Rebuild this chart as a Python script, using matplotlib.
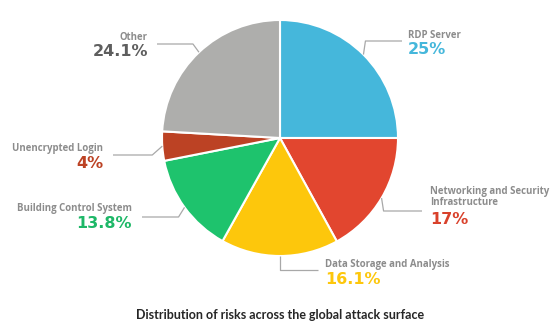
import numpy as np
import matplotlib.pyplot as plt

labels = ["RDP Server", "Networking and Security\nInfrastructure",
          "Data Storage and Analysis", "Building Control System",
          "Unencrypted Login", "Other"]
shares = [25, 17, 16.1, 13.8, 4, 24.1]
share_text = ["25%", "17%", "16.1%", "13.8%", "4%", "24.1%"]
colors = ["#45B7DB", "#E2462F", "#FDC70C", "#1EC36D", "#BC4224", "#AEAEAC"]
pct_colors = ["#45B7DB", "#D9412B", "#FDC70C", "#1EB868", "#BC4224", "#5E5E5E"]

W, H = 560, 329
cx, cy, radius = 280, H - 138, 118

fig = plt.figure(figsize=(W / 100, H / 100), dpi=100)
ax = fig.add_axes([0, 0, 1, 1])

wedges, _ = ax.pie(shares, colors=colors, startangle=90, counterclock=False,
                   center=(cx, cy), radius=radius, frame=True,
                   wedgeprops=dict(edgecolor="white", linewidth=1.5))
ax.set_xlim(0, W)
ax.set_ylim(0, H)
ax.set_aspect("equal")
ax.axis("off")

# leader lines: rim point -> short elbow -> horizontal run towards the text
elbow_dx = [2, 2, 0, -6, -10, -6]
line_y = [41, 211, 270, 217, 155, 44]
line_end = [402, 422, 318, 142, 113, 157]
text_x = [408, 430, 325, 132, 103, 148]
name_y = [35, 197, 264, 208, 148, 37]

for i, w in enumerate(wedges):
    ang = np.deg2rad((w.theta1 + w.theta2) / 2)
    x0 = cx + radius * np.cos(ang)
    y0 = cy + radius * np.sin(ang)
    ex, ey = x0 + elbow_dx[i], H - line_y[i]
    ax.plot([x0, ex, line_end[i]], [y0, ey, ey], color="#A8A8A8", lw=0.9,
            solid_capstyle="butt")

    ha = "right" if text_x[i] < cx else "left"
    ny = H - name_y[i]
    nlines = labels[i].count("\n")
    ax.text(text_x[i], ny, labels[i], ha=ha, va="center", fontsize=6.9,
            family="Open Sans", weight="bold", color="#8C8C8C",
            linespacing=0.95)
    ax.text(text_x[i], ny - 15 - 8 * nlines, share_text[i], ha=ha,
            va="center", fontsize=11.5, family="DejaVu Sans", weight="bold",
            color=pct_colors[i])

ax.text(cx, H - 315, "Distribution of risks across the global attack surface",
        ha="center", va="center", fontsize=9, family="Lato", weight="bold",
        color="#262626")

fig.savefig("out.png", dpi=100, facecolor="white")
